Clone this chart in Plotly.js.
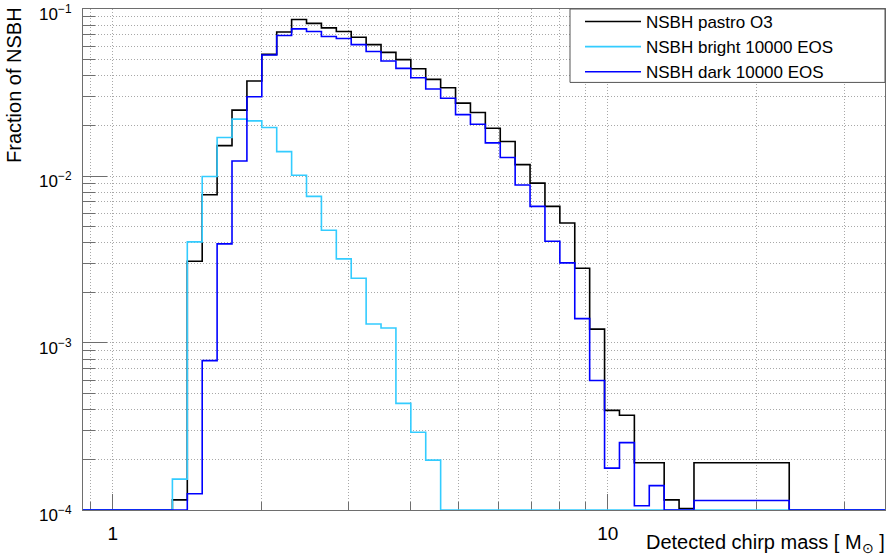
<!DOCTYPE html>
<html>
<head>
<meta charset="utf-8">
<script src="https://cdn.plot.ly/plotly-3.0.1.min.js"></script>
<style>
html,body{margin:0;padding:0;background:#ffffff;}
#chart{width:889px;height:560px;}
</style>
</head>
<body>
<div id="chart"></div>
<script>
// ---- data ----
// histogram bin edges, detected chirp mass [M_sun]
const binEdges = [0.8706, 0.9330, 1.0, 1.0718, 1.1487, 1.2311, 1.3195, 1.4142, 1.5157, 1.6245,
  1.7411, 1.8661, 2.0, 2.1435, 2.2974, 2.4623, 2.6390, 2.8284, 3.0314, 3.2490,
  3.4822, 3.7321, 4.0, 4.2871, 4.5948, 4.9246, 5.2780, 5.6569, 6.0629, 6.4980,
  6.9644, 7.4643, 8.0, 8.5742, 9.1896, 9.8492, 10.556, 11.314, 12.126, 12.996,
  13.929, 14.929, 23.25, 36.3];

const seriesNames = ["NSBH pastro O3", "NSBH bright 10000 EOS", "NSBH dark 10000 EOS"];

// fraction of NSBH per bin (one value per bin)
const pastroO3 = [0, 0, 0, 0, 0, 0, 1.15e-4, 3.09e-3, 7.73e-3, 0.0152,
  0.0248, 0.0371, 0.0535, 0.0729, 0.0865, 0.0820, 0.0771, 0.0733, 0.0678, 0.0612,
  0.0550, 0.0498, 0.0439, 0.0379, 0.0338, 0.0273, 0.0240, 0.0193, 0.0161, 0.0117,
  0.00906, 0.00658, 0.00523, 0.00280, 0.00121, 3.95e-4, 3.69e-4, 1.92e-4, 1.92e-4, 1.15e-4,
  1.02e-4, 1.92e-4, 0];

const bright10000 = [0, 0, 0, 0, 0, 0, 1.53e-4, 4.03e-3, 9.93e-3, 0.0170,
  0.0219, 0.0214, 0.0195, 0.0140, 0.0101, 7.55e-3, 4.73e-3, 3.19e-3, 2.44e-3, 1.30e-3,
  1.23e-3, 4.35e-4, 2.92e-4, 1.99e-4, 0, 0, 0, 0, 0, 0,
  0, 0, 0, 0, 0, 0, 0, 0, 0, 0,
  0, 0, 0];

const dark10000 = [0, 0, 0, 0, 0, 0, 0, 1.25e-4, 7.84e-4, 3.92e-3,
  0.0123, 0.0298, 0.0530, 0.0694, 0.0760, 0.0733, 0.0685, 0.0666, 0.0612, 0.0557,
  0.0488, 0.0441, 0.0388, 0.0332, 0.0292, 0.0233, 0.0204, 0.0158, 0.0129, 0.00884,
  0.00658, 0.00407, 0.00302, 0.00140, 5.96e-4, 1.78e-4, 2.53e-4, 1.06e-4, 1.40e-4, 0,
  0, 1.14e-4, 0];

const seriesColors = ["#000000", "#33ccff", "#0000ff"];

const xTickVals = [1, 10];
const xTickText = ["1", "10"];
const xMinorVals = [0.9, 2, 3, 4, 5, 6, 7, 8, 9, 20, 30];
const yTickVals = [1e-4, 1e-3, 1e-2, 1e-1];
const yTickText = ["10<sup>\u22124</sup>", "10<sup>\u22123</sup>", "10<sup>\u22122</sup>", "10<sup>\u22121</sup>"];
const yMinorVals = [2e-4, 3e-4, 4e-4, 5e-4, 6e-4, 7e-4, 8e-4, 9e-4,
  2e-3, 3e-3, 4e-3, 5e-3, 6e-3, 7e-3, 8e-3, 9e-3,
  2e-2, 3e-2, 4e-2, 5e-2, 6e-2, 7e-2, 8e-2, 9e-2];

const Y_MIN = 1e-4, Y_MAX = 1e-1;

// ---- build step (histogram outline) traces ----
function stepTrace(vals, name, color) {
  const ys = vals.map(v => (v > Y_MIN ? v : Y_MIN)); // empty bins drawn on the frame, as ROOT does
  ys.push(ys[ys.length - 1]);
  return {
    type: "scatter", mode: "lines",
    x: binEdges.slice(), y: ys,
    line: {shape: "hv", color: color, width: 1.6},
    name: name, legendgroup: name, hoverinfo: "skip"
  };
}

const traces = [
  stepTrace(pastroO3, seriesNames[0], seriesColors[0]),
  stepTrace(bright10000, seriesNames[1], seriesColors[1]),
  stepTrace(dark10000, seriesNames[2], seriesColors[2])
];

const FONT = "Liberation Sans, Arial, Helvetica, sans-serif";
const frameColor = "#6e6e6e";
const gridColor = "#a8a8a8";

const layout = {
  width: 889, height: 560,
  margin: {l: 83, r: 4, t: 7, b: 50, pad: 0},
  paper_bgcolor: "#ffffff", plot_bgcolor: "#ffffff",
  font: {family: FONT, color: "#000000"},
  showlegend: true,
  xaxis: {
    type: "log",
    range: [Math.log10(binEdges[0]), Math.log10(binEdges[binEdges.length - 1])],
    tickmode: "array", tickvals: xTickVals, ticktext: xTickText,
    ticks: "inside", ticklen: 16, tickwidth: 1, tickcolor: frameColor,
    showline: true, linecolor: frameColor, linewidth: 1, mirror: true,
    showgrid: true, gridcolor: gridColor, gridwidth: 1, griddash: "1px,2px",
    tickfont: {family: FONT, size: 19, color: "#000"},
    ticklabelstandoff: 6, ticklabeloverflow: "allow",
    zeroline: false, layer: "below traces",
    minor: {tickmode: "array", tickvals: xMinorVals, ticks: "inside", ticklen: 8,
      tickcolor: frameColor, showgrid: true, gridcolor: gridColor, griddash: "1px,2px", gridwidth: 1}
  },
  yaxis: {
    type: "log",
    range: [Math.log10(Y_MIN) - 0.0001, Math.log10(Y_MAX) + 0.0001],
    tickmode: "array", tickvals: yTickVals, ticktext: yTickText,
    ticks: "inside", ticklen: 24, tickwidth: 1, tickcolor: frameColor,
    showline: true, linecolor: frameColor, linewidth: 1, mirror: true,
    showgrid: true, gridcolor: gridColor, gridwidth: 1, griddash: "1px,2px",
    tickfont: {family: FONT, size: 17, color: "#000"},
    ticklabelstandoff: 7, ticklabelshift: 5, ticklabeloverflow: "allow",
    zeroline: false, layer: "below traces",
    minor: {tickmode: "array", tickvals: yMinorVals, ticks: "inside", ticklen: 12,
      tickcolor: frameColor, showgrid: true, gridcolor: gridColor, griddash: "1px,2px", gridwidth: 1}
  },
  legend: {
    x: (580 - 83) / 802, xanchor: "left",
    y: 1.010, yanchor: "top",
    bgcolor: "rgba(0,0,0,0)", borderwidth: 0,
    font: {family: FONT, size: 17, color: "#000"},
    itemwidth: 56, traceorder: "grouped", tracegroupgap: 0
  },
  shapes: [{
    type: "rect", xref: "paper", yref: "paper",
    x0: (570 - 83) / 802, x1: 1, y0: (510 - 80.7) / 503, y1: 1,
    line: {color: "#555555", width: 1}, fillcolor: "#ffffff", layer: "above"
  }],
  annotations: [
    {xref: "paper", yref: "paper", x: 1.002, xanchor: "right", y: -0.067, yanchor: "middle",
      text: "Detected chirp mass [ M<sub>\u2299</sub> ]", showarrow: false,
      font: {family: FONT, size: 20, color: "#000"}},
    {xref: "paper", yref: "paper", x: (14 - 83) / 802, xanchor: "center", y: 1.008, yanchor: "top",
      text: "Fraction of NSBH", textangle: -90, showarrow: false,
      font: {family: FONT, size: 20, color: "#000"}}
  ]
};

Plotly.newPlot("chart", traces, layout, {displayModeBar: false, responsive: false});
</script>
</body>
</html>
